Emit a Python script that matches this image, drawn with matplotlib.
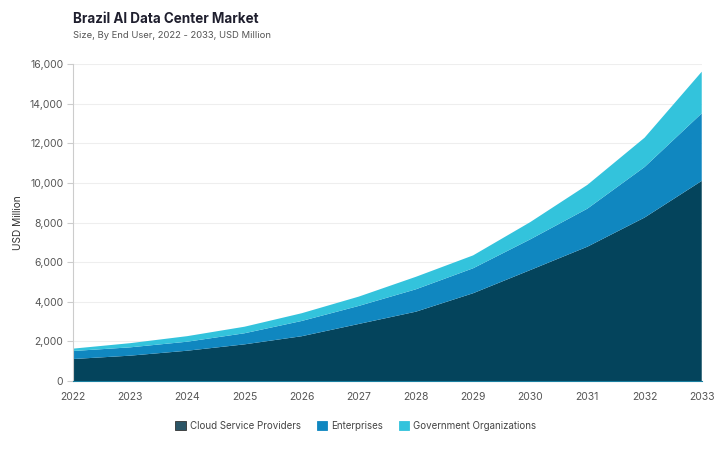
import matplotlib.pyplot as plt
from matplotlib.patches import Patch
from matplotlib.ticker import FuncFormatter

# values (USD Million)
years = [2022, 2023, 2024, 2025, 2026, 2027, 2028, 2029, 2030, 2031, 2032, 2033]
cloud = [1110, 1280, 1530, 1850, 2260, 2880, 3500, 4430, 5600, 6780, 8250, 10100]
enterprises = [404, 420, 455, 560, 770, 910, 1130, 1260, 1550, 1920, 2550, 3410]
government = [120, 210, 280, 330, 390, 470, 630, 650, 870, 1200, 1480, 2100]

series_names = ['Cloud Service Providers', 'Enterprises', 'Government Organizations']
colors = ['#04445c', '#1087c0', '#33c3dc']

plt.rcParams['font.family'] = ['Inter', 'DejaVu Sans']

fig = plt.figure(figsize=(7.19, 4.49), dpi=100)
ax = fig.add_axes([0.1015, 0.1514, 0.8745, 0.7061])

ax.stackplot(years, cloud, enterprises, government, colors=colors, linewidth=0)

ax.set_xlim(2022, 2033)
ax.set_ylim(0, 16000)
ax.set_xticks(years)
ax.set_yticks(range(0, 16001, 2000))
ax.yaxis.set_major_formatter(FuncFormatter(lambda v, p: f'{int(v):,}'))
ax.tick_params(axis='x', length=0, pad=8, labelsize=7.5, labelcolor='#555555')
ax.tick_params(axis='y', length=4, color='#cccccc', pad=3, labelsize=7.5, labelcolor='#555555')
ax.grid(axis='y', color='#eeeeee', linewidth=0.8)
ax.set_axisbelow(True)
for s in ['top', 'right']:
    ax.spines[s].set_visible(False)
ax.spines['left'].set_color('#cccccc')
ax.spines['bottom'].set_color('#1a7fa0')
ax.set_ylabel('USD Million', fontsize=7.3, color='#333333', labelpad=5)

fig.text(0.1015, 0.958, 'Brazil AI Data Center Market', fontsize=9.7,
         fontweight='bold', color='#1f1f2e', va='center')
fig.text(0.1015, 0.920, 'Size, By End User, 2022 - 2033, USD Million', fontsize=6.8,
         color='#555555', va='center')

handles = [Patch(facecolor=c, edgecolor='#333333' if i == 0 else c, linewidth=0.6, label=n)
           for i, (c, n) in enumerate(zip(colors, series_names))]
handles[0].set_facecolor('#2b5566')
fig.legend(handles=handles, loc='center', bbox_to_anchor=(0.495, 0.051), ncol=3,
           frameon=False, fontsize=7, handlelength=1.1, handleheight=1.1,
           handletextpad=0.4, columnspacing=1.6, labelcolor='#444444')

fig.savefig('out.png', dpi=100)
